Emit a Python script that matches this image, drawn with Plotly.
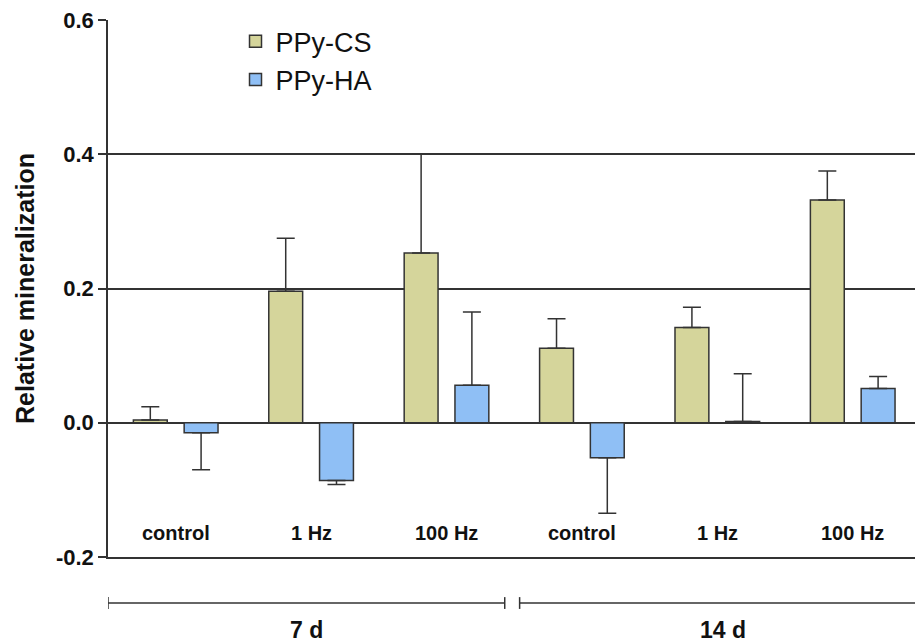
import plotly.graph_objects as go

# ---- data ----
categories = ["control", "1 Hz", "100 Hz", "control", "1 Hz", "100 Hz"]
groups = ["7 d", "14 d"]
cs_values = [0.004, 0.196, 0.253, 0.111, 0.142, 0.332]
cs_errors = [0.020, 0.079, 0.147, 0.044, 0.030, 0.043]
ha_values = [-0.015, -0.086, 0.056, -0.052, 0.002, 0.051]
ha_errors = [0.055, 0.006, 0.109, 0.083, 0.071, 0.018]
y_ticks = [-0.2, 0.0, 0.2, 0.4, 0.6]
y_tick_labels = ["-0.2", "0.0", "0.2", "0.4", "0.6"]

FONT = "Liberation Sans, Arial, sans-serif"
DARK = "#333333"
x_pos = list(range(len(categories)))


def one_sided(values, errors):
    plus = [e if v >= 0 else 0 for v, e in zip(values, errors)]
    minus = [e if v < 0 else 0 for v, e in zip(values, errors)]
    return plus, minus


fig = go.Figure()
for name, vals, errs, color in [
    ("PPy-CS", cs_values, cs_errors, "#d5d59b"),
    ("PPy-HA", ha_values, ha_errors, "#8fbff5"),
]:
    plus, minus = one_sided(vals, errs)
    fig.add_trace(go.Bar(
        x=x_pos, y=vals, name=name,
        marker=dict(color=color, line=dict(color=DARK, width=1.5)),
        error_y=dict(type="data", symmetric=False, array=plus, arrayminus=minus,
                     color=DARK, thickness=1.5, width=9),
    ))

shapes = []
annotations = []
# category labels inside the plot
for i, c in enumerate(categories):
    annotations.append(dict(x=i, y=-0.164, xref="x", yref="y", text="<b>%s</b>" % c,
                            showarrow=False, yanchor="middle",
                            font=dict(family=FONT, size=20, color="#111")))
# time-point brackets
n_per = len(categories) // len(groups)
pads = [(0.0, 0.07), (0.04, -0.04)]
for g, label in enumerate(groups):
    x0 = g * n_per - 0.5 + pads[g][0]
    x1 = (g + 1) * n_per - 0.5 - pads[g][1]
    yb = -0.0857
    shapes.append(dict(type="line", xref="x", yref="paper", x0=x0, x1=x1, y0=yb, y1=yb,
                       line=dict(color=DARK, width=1.5)))
    for xe in (x0, x1):
        shapes.append(dict(type="line", xref="x", yref="paper", x0=xe, x1=xe,
                           y0=yb - 0.011, y1=yb + 0.011, line=dict(color=DARK, width=1.5)))
    annotations.append(dict(x=(x0 + x1) / 2, y=-0.136, xref="x", yref="paper",
                            text="<b>%s</b>" % label, showarrow=False, yanchor="middle",
                            font=dict(family=FONT, size=23, color="#111")))

fig.update_layout(
    width=915, height=642,
    margin=dict(l=108, r=0, t=20, b=85),
    paper_bgcolor="white", plot_bgcolor="white",
    barmode="group", bargap=0.25, bargroupgap=0.333,
    showlegend=True,
    legend=dict(x=0.158, y=1.005, xanchor="left", yanchor="top",
                font=dict(family=FONT, size=27, color="#111"),
                bgcolor="rgba(0,0,0,0)"),
    shapes=shapes, annotations=annotations,
    xaxis=dict(range=[-0.5, 5.46], showticklabels=False, ticks="", showgrid=False,
               zeroline=False, showline=True, linecolor=DARK, linewidth=1.5),
    yaxis=dict(range=[-0.2, 0.6], tickvals=y_ticks,
               ticktext=["<b>%s</b>" % t for t in y_tick_labels],
               ticks="outside", ticklen=8, tickwidth=1.5, tickcolor=DARK,
               showline=True, linecolor=DARK, linewidth=1.5,
               showgrid=True, gridcolor=DARK, gridwidth=1.5,
               zeroline=True, zerolinecolor=DARK, zerolinewidth=1.5,
               tickfont=dict(family=FONT, size=22, color="#111"),
               title=dict(text="<b>Relative mineralization</b>", standoff=14,
                          font=dict(family=FONT, size=25, color="#111"))),
)

fig.write_html("out.html")
